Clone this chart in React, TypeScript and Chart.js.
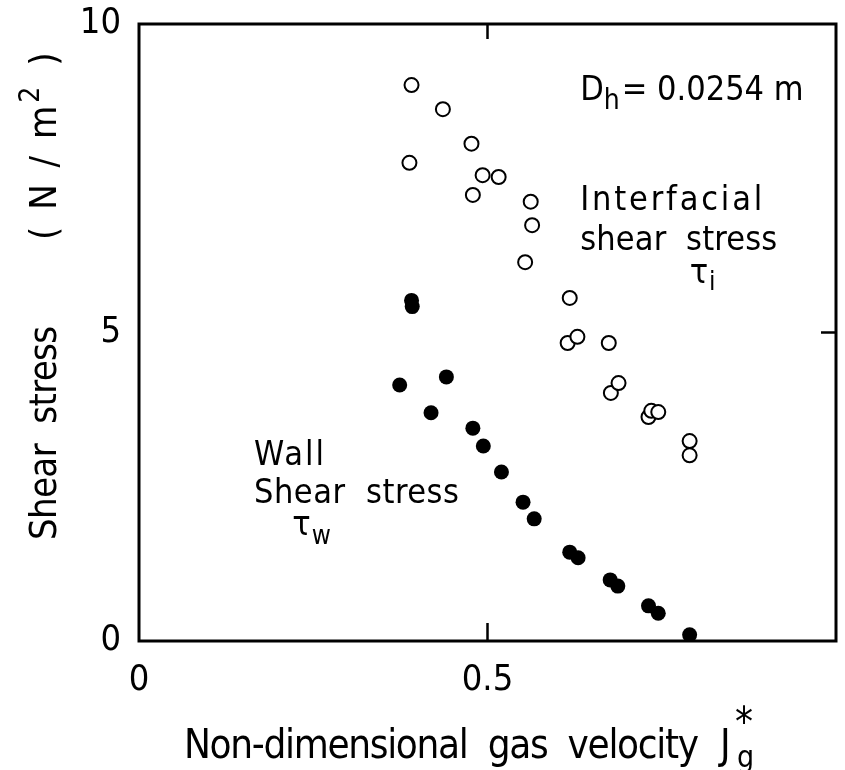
import React, { useEffect, useRef } from "react";
import { Chart, registerables } from "chart.js";

Chart.register(...registerables);

// ---- data ----
const interfacialX = [0.391, 0.436, 0.477, 0.388, 0.493, 0.516, 0.479, 0.562, 0.564, 0.554, 0.618, 0.615, 0.629, 0.674, 0.677, 0.688, 0.731, 0.735, 0.745, 0.790, 0.790];
const interfacialY = [9.01, 8.62, 8.06, 7.75, 7.55, 7.52, 7.23, 7.12, 6.74, 6.14, 5.56, 4.83, 4.93, 4.83, 4.02, 4.18, 3.63, 3.73, 3.71, 3.24, 3.01];
const wallX = [0.391, 0.392, 0.374, 0.441, 0.419, 0.479, 0.494, 0.520, 0.551, 0.567, 0.618, 0.630, 0.676, 0.687, 0.731, 0.745, 0.790];
const wallY = [5.52, 5.42, 4.15, 4.28, 3.70, 3.45, 3.16, 2.74, 2.25, 1.98, 1.44, 1.35, 0.99, 0.89, 0.57, 0.45, 0.10];
const xTicks = [0, 0.5, 1];
const yTicks = [0, 5, 10];
const xTickLabels = ["0", "0.5", ""];
const yTickLabels = ["0", "5", "10"];

const FONT = '"DejaVu Sans Condensed", "DejaVu Sans", sans-serif';

type Run = { t: string; size: number; dy?: number; gap?: number };

function drawRuns(ctx: CanvasRenderingContext2D, runs: Run[], x: number, y: number, spacing: number) {
  let cx = x;
  ctx.textAlign = "left";
  ctx.textBaseline = "alphabetic";
  for (const r of runs) {
    ctx.font = `${r.size}px ${FONT}`;
    (ctx as any).letterSpacing = `${spacing}px`;
    ctx.fillText(r.t, cx, y + (r.dy || 0));
    cx += ctx.measureText(r.t).width + (r.gap || 0);
  }
  (ctx as any).letterSpacing = "0px";
}

function spacedFit(ctx: CanvasRenderingContext2D, text: string, size: number, target: number) {
  ctx.font = `${size}px ${FONT}`;
  (ctx as any).letterSpacing = "0px";
  const w = ctx.measureText(text).width;
  const n = [...text].length;
  return n > 1 ? (target - w) / (n - 1) : 0;
}

const decorPlugin = {
  id: "decor",
  afterDatasetsDraw(chart: any) {
    const { ctx, chartArea: a, scales } = chart;
    const xs = scales.x, ys = scales.y;
    ctx.save();
    ctx.strokeStyle = "#000";
    ctx.fillStyle = "#000";
    ctx.lineWidth = 3;
    ctx.strokeRect(a.left, a.top, a.right - a.left, a.bottom - a.top);
    ctx.lineWidth = 2.5;
    const xm = xs.getPixelForValue(0.5);
    const ym = ys.getPixelForValue(5);
    ctx.beginPath();
    ctx.moveTo(xm, a.bottom); ctx.lineTo(xm, a.bottom - 18);
    ctx.moveTo(xm, a.top); ctx.lineTo(xm, a.top + 15);
    ctx.moveTo(a.right, ym); ctx.lineTo(a.right - 15, ym);
    ctx.stroke();

    const px = (v: number) => xs.getPixelForValue(v);
    const py = (v: number) => ys.getPixelForValue(v);

    // D_h = 0.0254 m
    drawRuns(ctx, [
      { t: "D", size: 34 },
      { t: "h", size: 28, dy: 9, gap: 2 },
      { t: "= 0.0254 m", size: 34 },
    ], px(0.633), py(8.77), 0);

    // Interfacial shear stress tau_i
    let ls = spacedFit(ctx, "Interfacial", 34, 182);
    drawRuns(ctx, [{ t: "Interfacial", size: 34 }], px(0.633), py(6.99), ls);
    ls = spacedFit(ctx, "shear  stress", 34, 197);
    drawRuns(ctx, [{ t: "shear  stress", size: 34 }], px(0.633), py(6.34), ls);
    drawRuns(ctx, [{ t: "τ", size: 34 }, { t: "i", size: 26, dy: 7 }], px(0.790), py(5.80), 1);

    // Wall shear stress tau_w
    ls = spacedFit(ctx, "Wall", 34, 70);
    drawRuns(ctx, [{ t: "Wall", size: 34 }], px(0.165), py(2.85), ls);
    ls = spacedFit(ctx, "Shear  stress", 34, 205);
    drawRuns(ctx, [{ t: "Shear  stress", size: 34 }], px(0.165), py(2.24), ls);
    drawRuns(ctx, [{ t: "τ", size: 34 }, { t: "w", size: 26, dy: 9 }], px(0.220), py(1.72), 1);

    // x axis title
    ls = spacedFit(ctx, "Non-dimensional  gas  velocity", 40, 515);
    drawRuns(ctx, [{ t: "Non-dimensional  gas  velocity", size: 40 }], 184, 758, ls);
    ctx.font = `40px ${FONT}`;
    ctx.fillText("J", 720, 758);
    ctx.font = `30px ${FONT}`;
    ctx.fillText("g", 737, 767);
    ctx.font = `40px ${FONT}`;
    ctx.fillText("*", 735, 736);

    // y axis title (rotated)
    ctx.save();
    ctx.translate(56, 540);
    ctx.rotate(-Math.PI / 2);
    ls = spacedFit(ctx, "Shear  stress", 38, 214);
    drawRuns(ctx, [{ t: "Shear  stress", size: 38 }], 0, 0, ls);
    drawRuns(ctx, [
      { t: "( N / m", size: 38 },
      { t: "2", size: 28, dy: -17, gap: 4 },
      { t: " )", size: 38 },
    ], 300, 0, 3);
    ctx.restore();

    ctx.restore();
  },
};

export default function App() {
  const ref = useRef<HTMLCanvasElement>(null);
  useEffect(() => {
    if (!ref.current) return;
    const chart = new Chart(ref.current, {
      type: "scatter",
      data: {
        datasets: [
          {
            label: "Interfacial shear stress",
            data: interfacialX.map((x, i) => ({ x, y: interfacialY[i] })),
            pointStyle: "circle",
            pointRadius: 7,
            pointBorderWidth: 2,
            pointBackgroundColor: "#fff",
            pointBorderColor: "#000",
          },
          {
            label: "Wall shear stress",
            data: wallX.map((x, i) => ({ x, y: wallY[i] })),
            pointStyle: "circle",
            pointRadius: 7.5,
            pointBorderWidth: 0,
            pointBackgroundColor: "#000",
            pointBorderColor: "#000",
          },
        ],
      },
      options: {
        animation: false,
        responsive: false,
        layout: { padding: { top: 24, right: 1, left: 0, bottom: 0 } },
        plugins: { legend: { display: false }, tooltip: { enabled: false } },
        scales: {
          x: {
            type: "linear",
            min: 0,
            max: 1,
            afterBuildTicks: (s: any) => { s.ticks = xTicks.map((v) => ({ value: v })); },
            afterFit: (s: any) => { s.height = 129; s.paddingLeft = 0; s.paddingRight = 0; },
            grid: { display: false, drawTicks: false },
            border: { display: false },
            ticks: {
              color: "#000",
              font: { family: FONT, size: 36 },
              padding: 18,
              maxRotation: 0,
              autoSkip: false,
              callback: (v: any) => xTickLabels[xTicks.indexOf(Number(v))] ?? "",
            },
          },
          y: {
            type: "linear",
            min: 0,
            max: 10,
            afterBuildTicks: (s: any) => { s.ticks = yTicks.map((v) => ({ value: v })); },
            afterFit: (s: any) => { s.width = 139; s.paddingTop = 0; s.paddingBottom = 0; },
            grid: { display: false, drawTicks: false },
            border: { display: false },
            ticks: {
              color: "#000",
              font: { family: FONT, size: 36 },
              padding: 18,
              autoSkip: false,
              callback: (v: any) => yTickLabels[yTicks.indexOf(Number(v))] ?? "",
            },
          },
        },
      },
      plugins: [decorPlugin],
    });
    return () => chart.destroy();
  }, []);
  return (
    <div style={{ position: "fixed", left: 0, top: 0, width: 845, height: 770, background: "#fff" }}>
      <canvas ref={ref} width={845} height={770} style={{ display: "block" }} />
    </div>
  );
}
